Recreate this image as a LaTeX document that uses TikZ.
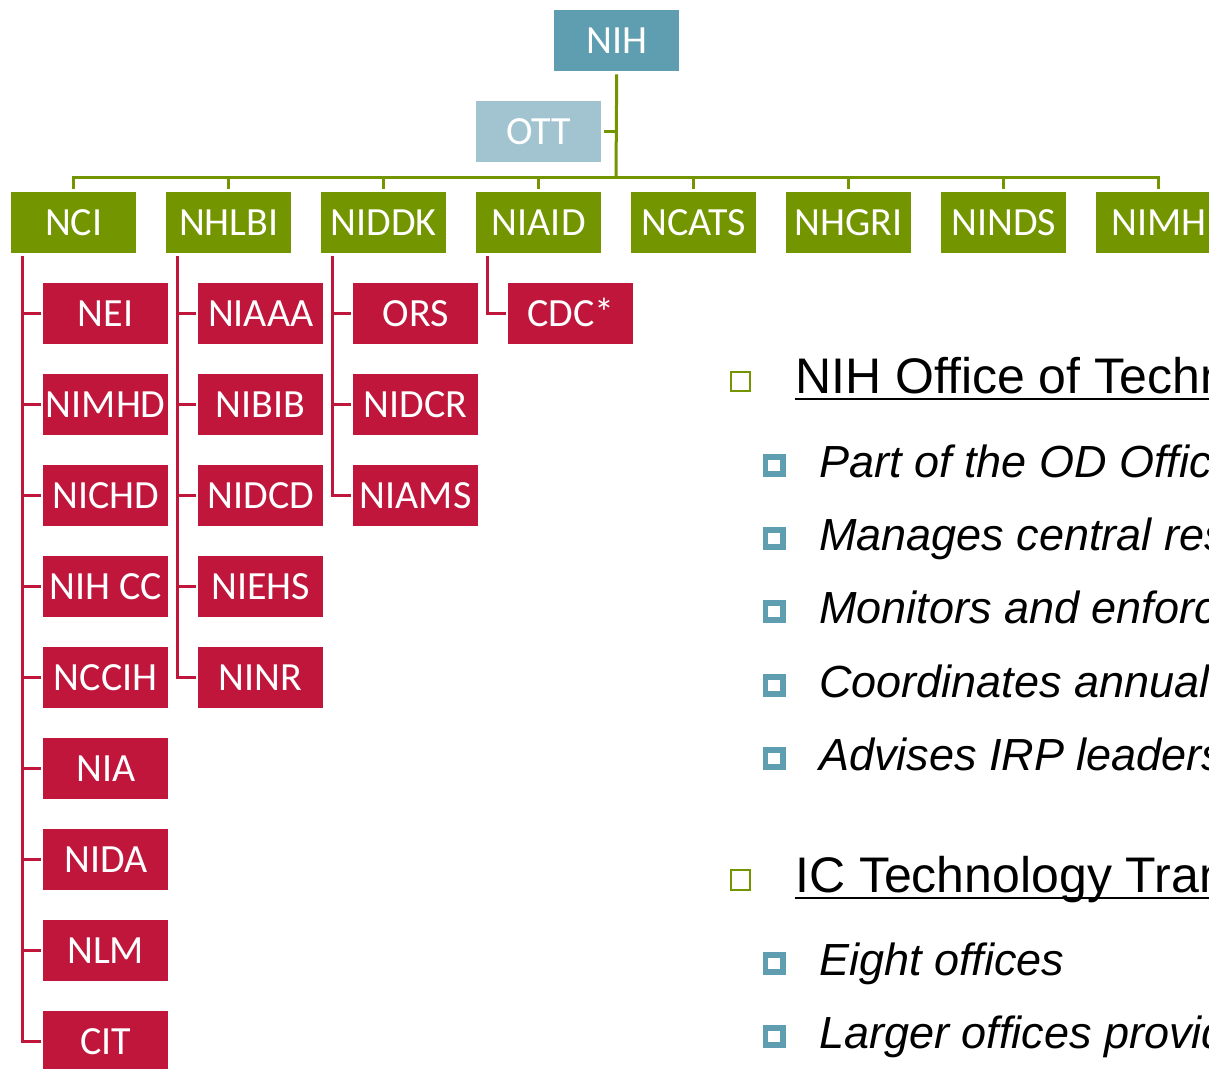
\documentclass[tikz,border=0pt]{standalone}
\usepackage{fontspec}
\setmainfont{Liberation Sans}
\newfontfamily\boxfont{Carlito}
\definecolor{orggreen}{RGB}{115,150,0}
\definecolor{orgred}{RGB}{192,22,60}
\definecolor{nihblue}{RGB}{95,157,176}
\definecolor{ottblue}{RGB}{161,196,208}
\tikzset{
  orgbox/.style={anchor=north west, minimum width=125pt, minimum height=61pt, inner sep=0pt,
    text=white, font=\boxfont\fontsize{40}{48}\selectfont, text height=25pt, text depth=0pt},
  nihbox/.style={orgbox, fill=nihblue},
  ottbox/.style={orgbox, fill=ottblue},
  gbox/.style={orgbox, fill=orggreen},
  rbox/.style={orgbox, fill=orgred},
  gline/.style={draw=orggreen, line width=3pt},
  rline/.style={draw=orgred, line width=2.5pt},
  headtext/.style={anchor=base west, inner sep=0pt, font=\fontsize{50}{60}\selectfont},
  subtext/.style={anchor=base west, inner sep=0pt, font=\itshape\fontsize{45}{54}\selectfont},
}
\begin{document}
\begin{tikzpicture}[x=1pt,y=-1pt]
\useasboundingbox[fill=white] (0,0) rectangle (1209,1068);
% top
\node[nihbox] (nih) at (554,10) {NIH};
\node[ottbox] (ott) at (476,101) {OTT};
% level 1
\foreach \n/\t [count=\i from 0] in {nci/NCI,nhlbi/NHLBI,niddk/NIDDK,niaid/NIAID,ncats/NCATS,nhgri/NHGRI,ninds/NINDS,nimh/NIMH}
  \node[gbox] (\n) at (11+155*\i,192) {\t};
% children
\foreach \n/\t [count=\i from 0] in {nei/NEI,nimhd/NIMHD,nichd/NICHD,nihcc/NIH CC,nccih/NCCIH,nia/NIA,nida/NIDA,nlm/NLM,cit/CIT}
  \node[rbox] (\n) at (43,283+91*\i) {\t};
\foreach \n/\t [count=\i from 0] in {niaaa/NIAAA,nibib/NIBIB,nidcd/NIDCD,niehs/NIEHS,ninr/NINR}
  \node[rbox] (\n) at (198,283+91*\i) {\t};
\foreach \n/\t [count=\i from 0] in {ors/ORS,nidcr/NIDCR,niams/NIAMS}
  \node[rbox] (\n) at (353,283+91*\i) {\t};
\node[rbox] (cdc) at (508,283) {CDC*};
% green connectors
\coordinate (bus) at (616,177);
\draw[gline] ([yshift=-3pt]nih.south) -- (bus);
\draw[gline] ([xshift=3pt]ott.east) -- (ott.east -| bus);
\draw[gline] ([yshift=3pt]nci.north) -- (nci.north |- bus) -- (nimh.north |- bus) -- ([yshift=3pt]nimh.north);
\foreach \n in {nhlbi,niddk,niaid,ncats,nhgri,ninds}
  \draw[gline] (\n.north |- bus) -- ([yshift=3pt]\n.north);
% red connectors
\coordinate (nciL) at ([xshift=11.5pt,yshift=-3pt]nci.south west);
\draw[rline] (nciL) |- ([xshift=-2.5pt]cit.west);
\foreach \c in {nei,nimhd,nichd,nihcc,nccih,nia,nida,nlm}
  \draw[rline] (nciL |- \c.west) -- ([xshift=-2.5pt]\c.west);
\coordinate (nhlbiL) at ([xshift=11.5pt,yshift=-3pt]nhlbi.south west);
\draw[rline] (nhlbiL) |- ([xshift=-2.5pt]ninr.west);
\foreach \c in {niaaa,nibib,nidcd,niehs}
  \draw[rline] (nhlbiL |- \c.west) -- ([xshift=-2.5pt]\c.west);
\coordinate (niddkL) at ([xshift=11.5pt,yshift=-3pt]niddk.south west);
\draw[rline] (niddkL) |- ([xshift=-2.5pt]niams.west);
\foreach \c in {ors,nidcr}
  \draw[rline] (niddkL |- \c.west) -- ([xshift=-2.5pt]\c.west);
\coordinate (niaidL) at ([xshift=11.5pt,yshift=-3pt]niaid.south west);
\draw[rline] (niaidL) |- ([xshift=-2.5pt]cdc.west);
% text block
\draw[orggreen, line width=2pt] (731,372) rectangle (750,390.5);
\node[headtext] (h1) at (795,393) {NIH Office of Techn};
\draw[line width=2pt] (795,398.5) -- (1209,398.5);
\foreach \b/\t/\nm in {477/Part of the OD Offic/s1, 550/Manages central res/s2, 623/Monitors and enforc/s3, 697/Coordinates annual/s4, 770/Advises IRP leaders/s5}{
  \draw[nihblue, line width=5.6pt] (765.5,\b-20.2) rectangle (782.8,\b-2.8);
  \node[subtext] (\nm) at (819,\b) {\t};
}
\draw[orggreen, line width=2pt] (731,870) rectangle (750,889.5);
\node[headtext] (h2) at (795,892) {IC Technology Tran};
\draw[line width=2pt] (795,897.5) -- (1209,897.5);
\foreach \b/\t/\nm in {975/Eight offices/s6, 1048/Larger offices provid/s7}{
  \draw[nihblue, line width=5.6pt] (765.5,\b-20.2) rectangle (782.8,\b-2.8);
  \node[subtext] (\nm) at (819,\b) {\t};
}
\end{tikzpicture}
\end{document}
